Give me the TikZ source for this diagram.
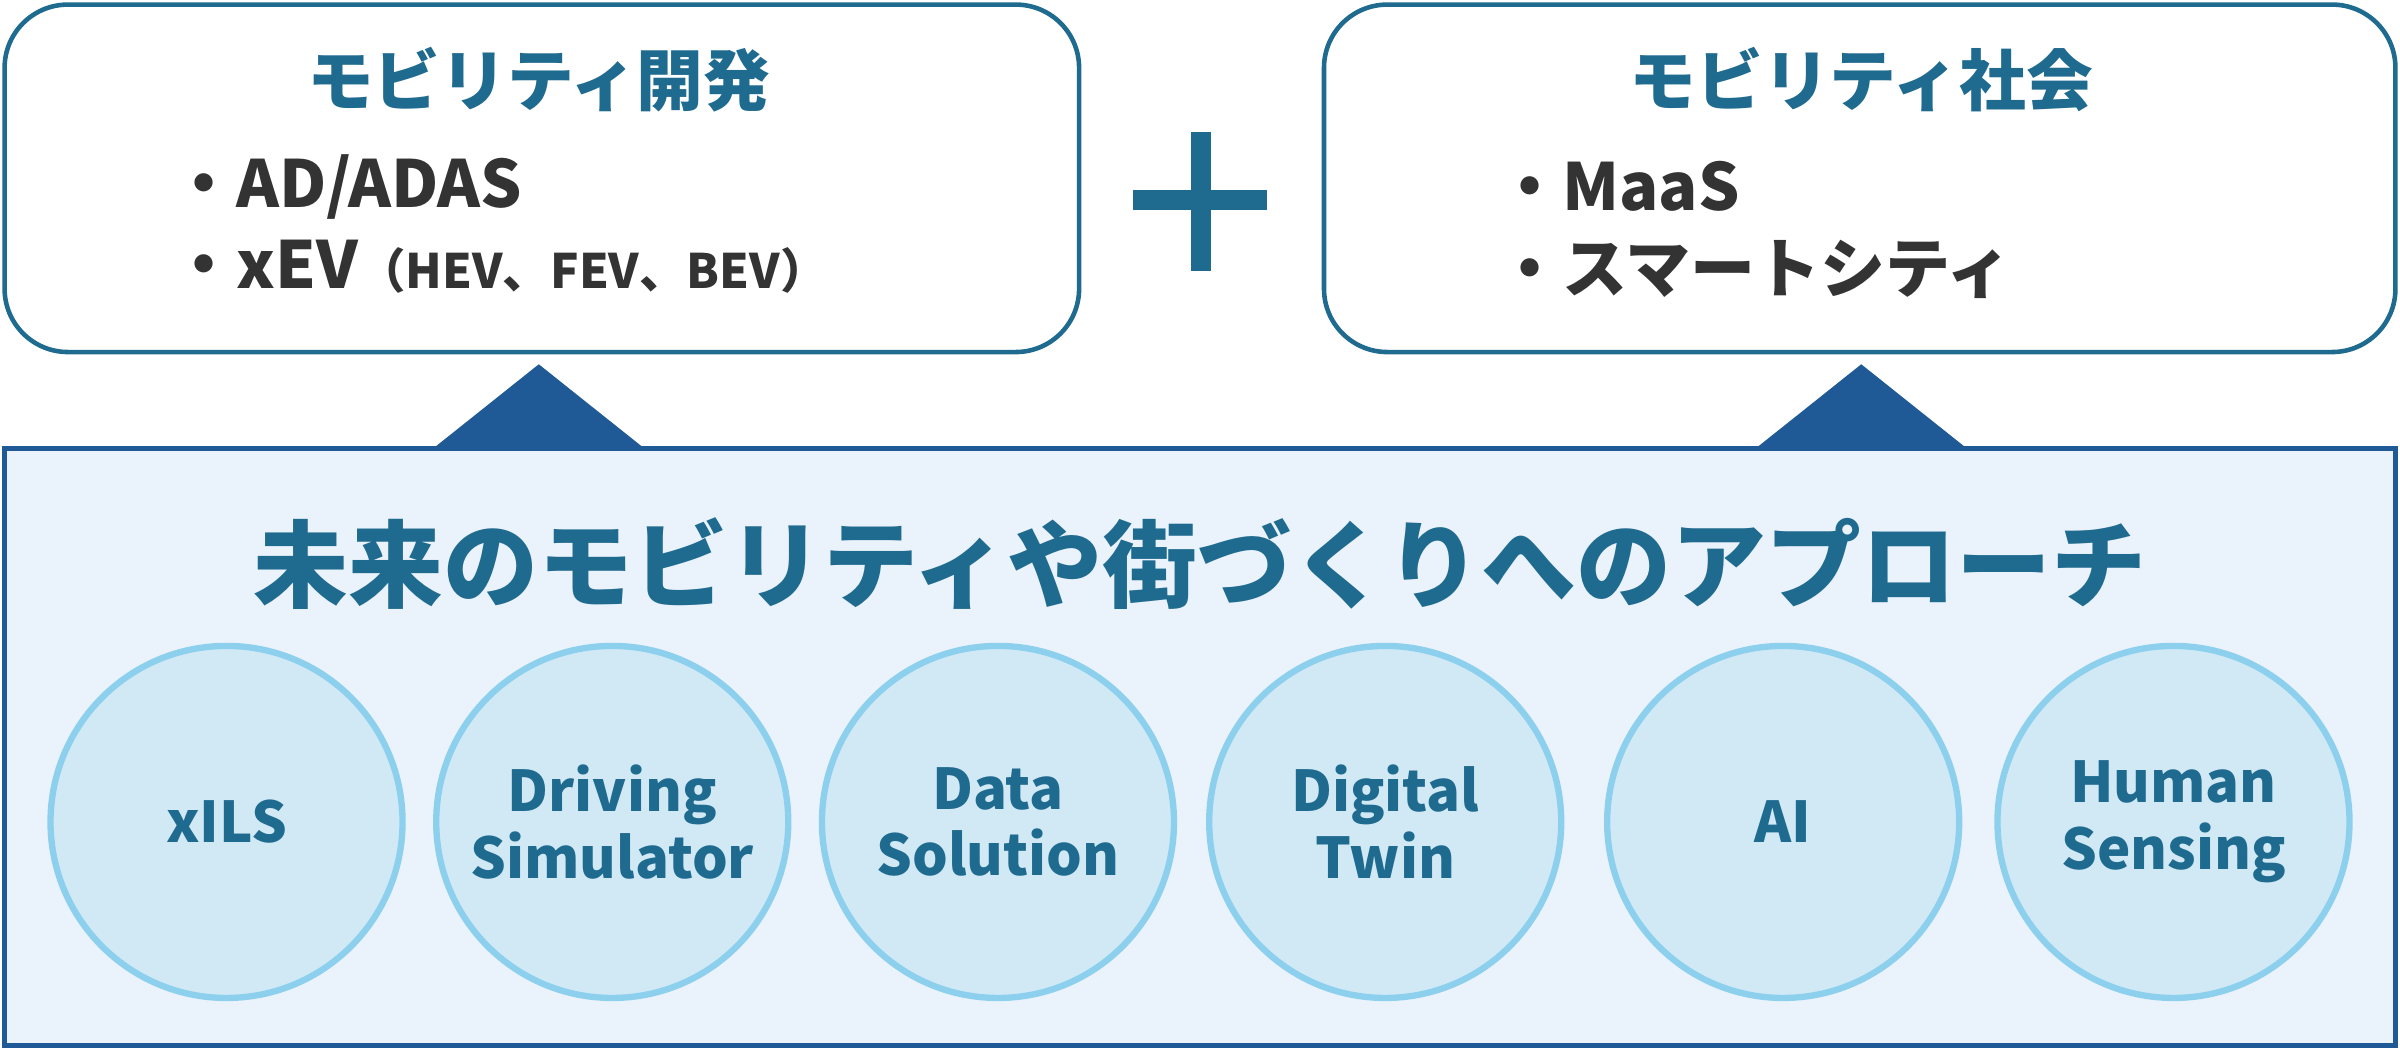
\documentclass[tikz,border=0pt]{standalone}
\usepackage{fontspec}
\setmainfont{Noto Sans CJK JP}
\usetikzlibrary{positioning}
\definecolor{navy}{HTML}{1F5A96}
\definecolor{teal}{HTML}{1F6A8F}
\definecolor{ink}{HTML}{333333}
\definecolor{pale}{HTML}{EAF2FB}
\definecolor{bubble}{HTML}{D0E9F5}
\definecolor{rim}{HTML}{8DD0EE}
\tikzset{
    topbox/.style={draw=teal, line width=1.3pt, fill=white, rounded corners=18pt},
    ball/.style={circle, draw=rim, line width=1.8pt, fill=bubble, minimum size=230\unitpx, inner sep=0pt, align=center, font=\fontsize{16}{19}\selectfont\bfseries, text=teal},
    heading/.style={font=\fontsize{19}{22}\selectfont\bfseries, text=teal},
    item/.style={font=\fontsize{18.5}{22}\selectfont\bfseries, text=ink, anchor=west}
}
\newlength{\unitpx}\setlength{\unitpx}{0.015306cm}
\begin{document}
\begin{tikzpicture}[x=0.015306cm, y=-0.015306cm]
    \useasboundingbox (0,0) rectangle (1568,685);
    % upper boxes
    \draw[topbox] (3,3) rectangle (705,230);
    \draw[topbox] (865,3) rectangle (1565,230);
    \node[heading](devtitle) at (352,52){モビリティ開発};
    \node[item](ad) at (104,122){・AD/ADAS};
    \node[item](xev) at (104,174){・xEV{\fontsize{13.5}{16}\selectfont（HEV、FEV、BEV）}};
    \node[heading](soctitle) at (1216,52){モビリティ社会};
    \node[item](maas) at (970,122){・MaaS};
    \node[item](city) at (970,176){・スマートシティ};
    % plus
    \fill[teal] (740,124) rectangle (828,137);
    \fill[teal] (778,86) rectangle (791,177);
    % pointers
    \fill[navy] (283,293) -- (352,238) -- (421,293) -- cycle;
    \fill[navy] (1147,293) -- (1216,238) -- (1285,293) -- cycle;
    % lower panel
    \draw[draw=navy, line width=1.6pt, fill=pale] (3,293) rectangle (1565,683);
    \node[font=\fontsize{27}{31}\selectfont\bfseries, text=teal](approach) at (784,368){未来のモビリティや街づくりへのアプローチ};
    \foreach \x/\name/\txt in {148/xils/xILS, 400/sim/Driving\\Simulator, 652/data/Data\\Solution, 905/twin/Digital\\Twin, 1165/ai/AI, 1420/human/Human\\Sensing}
        \node[ball](\name) at (\x,537){\txt};
\end{tikzpicture}
\end{document}
